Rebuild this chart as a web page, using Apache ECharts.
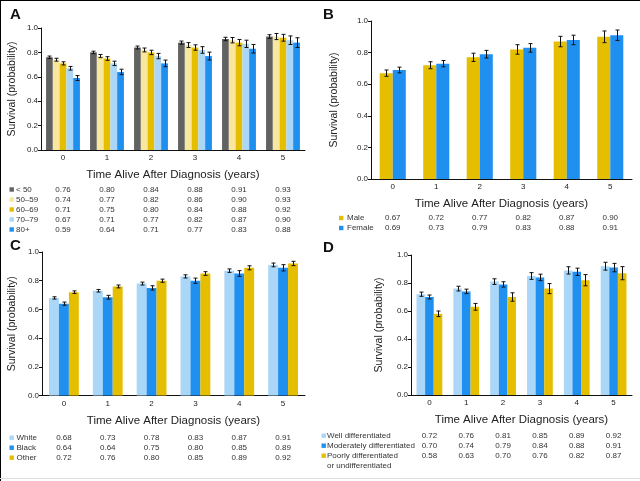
<!DOCTYPE html>
<html><head><meta charset="utf-8">
<script src="https://cdn.jsdelivr.net/npm/echarts@6/dist/echarts.min.js"></script>
<style>html,body{margin:0;padding:0;background:#fff}#c{width:640px;height:481px}</style>
</head><body><div id="c"></div>
<script>
// ---------- data ----------
const years = ['0','1','2','3','4','5'];
const yTicks = [0, 0.2, 0.4, 0.6, 0.8, 1.0];

// Panel A (age)
const ageLabels = ['< 50', '50–59', '60–69', '70–79', '80+'];
const ageLt50   = [0.76, 0.80, 0.84, 0.88, 0.91, 0.93];
const age50to59 = [0.74, 0.77, 0.82, 0.86, 0.90, 0.93];
const age60to69 = [0.71, 0.75, 0.80, 0.84, 0.88, 0.92];
const age70to79 = [0.67, 0.71, 0.77, 0.82, 0.87, 0.90];
const age80plus = [0.59, 0.64, 0.71, 0.77, 0.83, 0.88];
const errLt50   = [0.010, 0.010, 0.012, 0.013, 0.014, 0.015];
const err50to59 = [0.012, 0.013, 0.016, 0.020, 0.022, 0.025];
const err60to69 = [0.013, 0.015, 0.018, 0.022, 0.026, 0.028];
const err70to79 = [0.015, 0.018, 0.022, 0.027, 0.030, 0.035];
const err80plus = [0.020, 0.022, 0.027, 0.032, 0.035, 0.040];

// Panel B (sex)
const sexLabels = ['Male', 'Female'];
const male   = [0.67, 0.72, 0.77, 0.82, 0.87, 0.90];
const female = [0.69, 0.73, 0.79, 0.83, 0.88, 0.91];
const errMale   = [0.020, 0.022, 0.026, 0.030, 0.033, 0.037];
const errFemale = [0.018, 0.020, 0.024, 0.027, 0.030, 0.033];

// Panel C (race)
const raceLabels = ['White', 'Black', 'Other'];
const white = [0.68, 0.73, 0.78, 0.83, 0.87, 0.91];
const black = [0.64, 0.64, 0.75, 0.80, 0.85, 0.89];       // as printed in table
const blackBar = [0.64, 0.685, 0.75, 0.80, 0.85, 0.89];   // bar heights as drawn
const other = [0.72, 0.76, 0.80, 0.85, 0.89, 0.92];
const errWhite = [0.008, 0.009, 0.010, 0.011, 0.012, 0.013];
const errBlack = [0.011, 0.013, 0.015, 0.018, 0.020, 0.022];
const errOther = [0.009, 0.010, 0.011, 0.013, 0.014, 0.015];

// Panel D (grade)
const gradeLabels = ['Well differentiated', 'Moderately differentiated', 'Poorly differentiated\nor undifferentiated'];
const wellDiff = [0.72, 0.76, 0.81, 0.85, 0.89, 0.92];
const modDiff  = [0.70, 0.74, 0.79, 0.84, 0.88, 0.91];
const poorDiff = [0.58, 0.63, 0.70, 0.76, 0.82, 0.87];
const errWell = [0.015, 0.017, 0.020, 0.024, 0.026, 0.028];
const errMod  = [0.014, 0.016, 0.019, 0.023, 0.026, 0.030];
const errPoor = [0.020, 0.024, 0.030, 0.036, 0.040, 0.047];

// ---------- styling / layout ----------
const C_DGRAY = '#626262', C_LYEL = '#f8e79c', C_GOLD = '#e6be00', C_LBLUE = '#aad7f7', C_BLUE = '#1f8ff0';
const FONT = 'Liberation Sans, Arial, sans-serif';
const xTitle = 'Time Alive After Diagnosis (years)';
const yTitle = 'Survival (probability)';

const panels = [
  { letter: 'A', lx: 10, ly: 15, grid: {left: 41, top: 28, width: 264, height: 122}, gap: 0.23, yNameGap: 23,
    series: [
      {name: ageLabels[0], bars: ageLt50, table: ageLt50, err: errLt50, color: C_DGRAY},
      {name: ageLabels[1], bars: age50to59, table: age50to59, err: err50to59, color: C_LYEL},
      {name: ageLabels[2], bars: age60to69, table: age60to69, err: err60to69, color: C_GOLD},
      {name: ageLabels[3], bars: age70to79, table: age70to79, err: err70to79, color: C_LBLUE},
      {name: ageLabels[4], bars: age80plus, table: age80plus, err: err80plus, color: C_BLUE}
    ], tbl: {y0: 189.5, sqX: 9.5, txtX: 16} },
  { letter: 'B', lx: 323, ly: 15, grid: {left: 371, top: 21, width: 261, height: 158}, gap: 0.40, yNameGap: 31,
    series: [
      {name: sexLabels[0], bars: male, table: male, err: errMale, color: C_GOLD},
      {name: sexLabels[1], bars: female, table: female, err: errFemale, color: C_BLUE}
    ], tbl: {y0: 218, sqX: 339, txtX: 347} },
  { letter: 'C', lx: 10, ly: 246, grid: {left: 42, top: 252, width: 263, height: 143.5}, gap: 0.32, yNameGap: 24,
    series: [
      {name: raceLabels[0], bars: white, table: white, err: errWhite, color: C_LBLUE},
      {name: raceLabels[1], bars: blackBar, table: black, err: errBlack, color: C_BLUE},
      {name: raceLabels[2], bars: other, table: other, err: errOther, color: C_GOLD}
    ], tbl: {y0: 437.7, sqX: 9.5, txtX: 16.5} },
  { letter: 'D', lx: 323, ly: 248, grid: {left: 411, top: 255, width: 221, height: 140}, gap: 0.30, yNameGap: 26,
    series: [
      {name: gradeLabels[0], bars: wellDiff, table: wellDiff, err: errWell, color: C_LBLUE},
      {name: gradeLabels[1], bars: modDiff, table: modDiff, err: errMod, color: C_BLUE},
      {name: gradeLabels[2], bars: poorDiff, table: poorDiff, err: errPoor, color: C_GOLD}
    ], tbl: {y0: 435.7, sqX: 321.5, txtX: 327} }
];

function errRender(gapFrac, n, idx) {
  return function (params, api) {
    const cat = api.value(0);
    const lo = api.coord([cat, api.value(1)]);
    const hi = api.coord([cat, api.value(2)]);
    const band = api.size([1, 0])[0];
    const groupW = band * (1 - gapFrac);
    const bw = groupW / n;
    const x = Math.round(lo[0] - groupW / 2 + bw * (idx + 0.5)) + 0.5;
    const cap = 2;
    const st = {stroke: '#111', lineWidth: 1};
    return {type: 'group', children: [
      {type: 'line', shape: {x1: x, y1: hi[1], x2: x, y2: lo[1]}, style: st},
      {type: 'line', shape: {x1: x - cap, y1: hi[1], x2: x + cap, y2: hi[1]}, style: st},
      {type: 'line', shape: {x1: x - cap, y1: lo[1], x2: x + cap, y2: lo[1]}, style: st}
    ]};
  };
}

const grids = [], xAxes = [], yAxes = [], series = [];
panels.forEach((p, k) => {
  grids.push(p.grid);
  xAxes.push({
    type: 'category', gridIndex: k, data: years, boundaryGap: true,
    axisLine: {lineStyle: {color: '#111', width: 1}},
    axisTick: {alignWithLabel: true, length: 3, lineStyle: {color: '#111'}},
    axisLabel: {fontSize: 8, color: '#222', margin: 4, fontFamily: FONT},
    name: xTitle, nameLocation: 'middle', nameGap: 19,
    nameTextStyle: {fontSize: 11.5, color: '#222', fontFamily: FONT}
  });
  yAxes.push({
    type: 'value', gridIndex: k, min: 0, max: 1, interval: 0.2,
    axisLine: {show: true, lineStyle: {color: '#111', width: 1}},
    axisTick: {show: true, length: 3, lineStyle: {color: '#111'}},
    splitLine: {show: false},
    axisLabel: {fontSize: 8, color: '#222', margin: 3, fontFamily: FONT, formatter: v => v.toFixed(1)},
    name: yTitle, nameLocation: 'middle', nameGap: p.yNameGap,
    nameTextStyle: {fontSize: 10.5, color: '#222', fontFamily: FONT}
  });
  const n = p.series.length;
  p.series.forEach((s, i) => {
    series.push({
      type: 'bar', name: s.name, xAxisIndex: k, yAxisIndex: k, data: s.bars,
      barGap: '0%', barCategoryGap: (p.gap * 100) + '%',
      itemStyle: {color: s.color}, silent: true, animation: false
    });
  });
  p.series.forEach((s, i) => {
    series.push({
      type: 'custom', xAxisIndex: k, yAxisIndex: k, z: 10, silent: true, animation: false,
      renderItem: errRender(p.gap, n, i),
      encode: {x: 0, y: [1, 2]},
      data: years.map((y, j) => [j, s.bars[j] - s.err[j], s.bars[j] + s.err[j]])
    });
  });
});

const chart = echarts.init(document.getElementById('c'), null, {renderer: 'canvas'});
chart.setOption({
  backgroundColor: '#fff', animation: false,
  grid: grids, xAxis: xAxes, yAxis: yAxes, series: series
});

// ---------- tables, letters, frame ----------
const graphic = [];
graphic.push({type: 'line', shape: {x1: 0, y1: 0.5, x2: 640, y2: 0.5}, style: {stroke: '#000', lineWidth: 1}});
graphic.push({type: 'line', shape: {x1: 0.5, y1: 0, x2: 0.5, y2: 481}, style: {stroke: '#000', lineWidth: 1}});
graphic.push({type: 'line', shape: {x1: 0, y1: 478.5, x2: 640, y2: 478.5}, style: {stroke: '#ddd', lineWidth: 1}});
panels.forEach((p, k) => {
  graphic.push({type: 'text', x: p.lx, y: p.ly, style: {text: p.letter, font: 'bold 15px ' + FONT, fill: '#111', verticalAlign: 'middle'}});
  p.series.forEach((s, i) => {
    const y = p.tbl.y0 + i * 10;
    graphic.push({type: 'rect', shape: {x: p.tbl.sqX, y: y - 2.2, width: 4.4, height: 4.4}, style: {fill: s.color}});
    graphic.push({type: 'text', x: p.tbl.txtX, y: y - 5, style: {text: s.name, font: '8px ' + FONT, fill: '#333', verticalAlign: 'top', lineHeight: 10}});
    s.table.forEach((v, j) => {
      const px = chart.convertToPixel({xAxisIndex: k}, j);
      graphic.push({type: 'text', x: px, y: y, style: {text: v.toFixed(2), font: '8px ' + FONT, fill: '#333', align: 'center', verticalAlign: 'middle'}});
    });
  });
});
chart.setOption({graphic: graphic});
</script></body></html>
